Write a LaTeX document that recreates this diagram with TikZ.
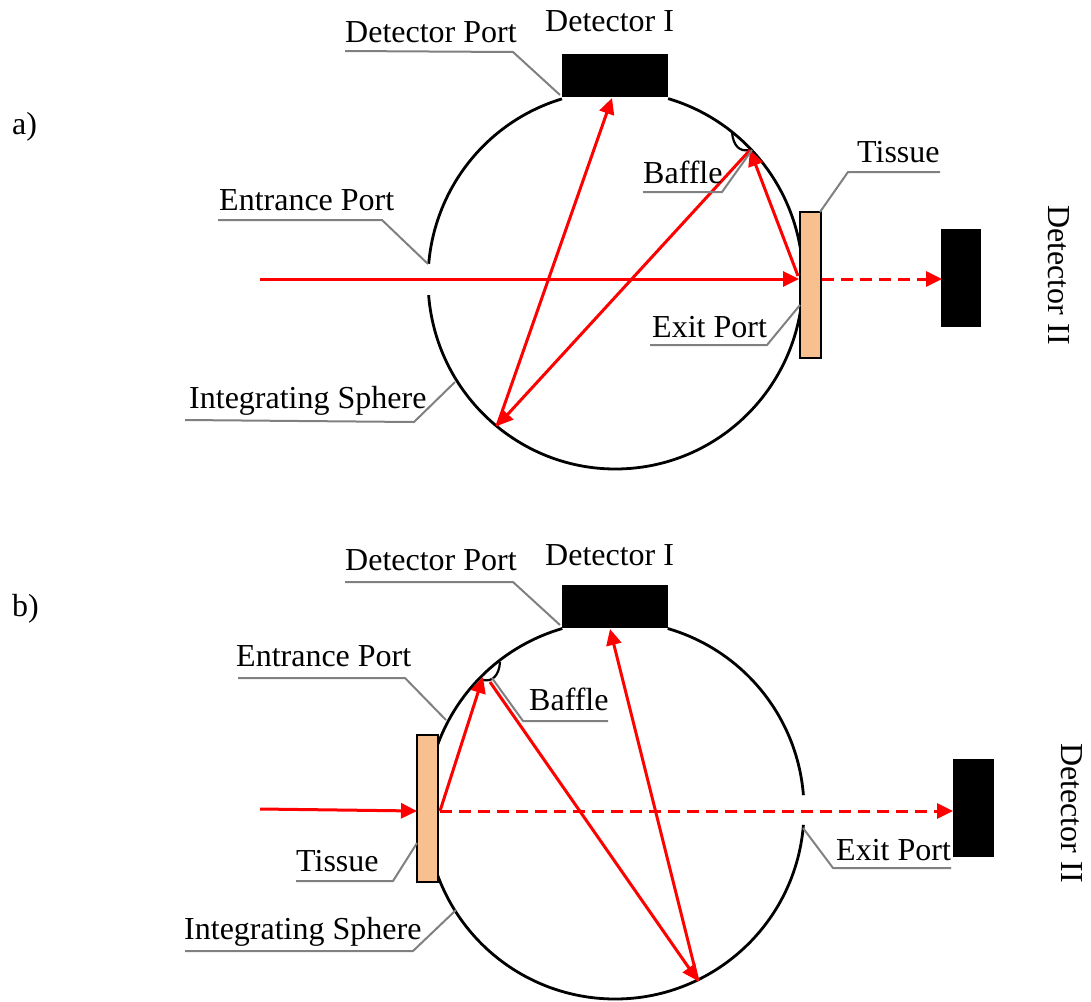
\documentclass[tikz,border=0pt]{standalone}
\usepackage{fontspec}
\setmainfont{Liberation Serif}
\usetikzlibrary{arrows.meta}
\definecolor{tissuecol}{RGB}{248,192,142}
\definecolor{leadergray}{RGB}{128,128,128}
\tikzset{
  lbl/.style={font=\fontsize{32}{36}\selectfont,inner sep=0pt,text=black},
  sphere/.style={draw=black,line width=2.8pt},
  baffle/.style={draw=black,line width=2.2pt},
  tissue/.style={draw=black,fill=tissuecol,line width=2.2pt},
  leader/.style={draw=leadergray,line width=2pt},
  ray/.style={draw=red,line width=3pt,-{Triangle[length=16pt,width=15pt]}},
  dashray/.style={ray,dash pattern=on 12pt off 7pt},
}
\begin{document}
\begin{tikzpicture}[x=1pt,y=-1pt]
\useasboundingbox (0,0) rectangle (1091,1001);
% ---------- a ----------
\coordinate (ca) at (615.5,280);
\draw[sphere] (ca) ++(73.7:187.5pt and 189pt) arc[start angle=73.7,end angle=8,x radius=187.5pt,y radius=189pt];
\draw[sphere] (ca) ++(106.6:187.5pt and 189pt) arc[start angle=106.6,end angle=175.1,x radius=187.5pt,y radius=189pt];
\draw[sphere] (ca) ++(184.6:187.5pt and 189pt) arc[start angle=184.6,end angle=352,x radius=187.5pt,y radius=189pt];
\draw[baffle] (732,132) .. controls (733,146) and (740,152) .. (749,150);
\path[tissue] (800,212) rectangle (821,358);
\fill[black] (562,54) rectangle (668,97);
\fill[black] (941,229) rectangle (981,327);
\coordinate (p0a) at (260,279);
\coordinate (p1a) at (799,279);
\coordinate (p2a) at (822,279);
\coordinate (p3a) at (942,279);
\coordinate (p4a) at (750,150);
\coordinate (p5a) at (497,426);
\coordinate (p6a) at (612,98);
\coordinate (p7a) at (798,276);
\draw[ray] (p0a) -- (p1a);
\draw[dashray] (p2a) -- (p3a);
\draw[ray] (p7a) -- (p4a);
\draw[ray] (p4a) -- (p5a);
\draw[ray] (p5a) -- (p6a);
\draw[leader] (345,51) -- (513,52) -- (560,95);
\draw[leader] (218,220) -- (382,220) -- (428,264);
\draw[leader] (185,420) -- (414,422) -- (455,382);
\draw[leader] (643,192) -- (722,192) -- (752,150);
\draw[leader] (940,172) -- (848,172) -- (820,212);
\draw[leader] (650,345) -- (767,345) -- (800,305);
\node[lbl,anchor=base west] (la1) at (345,42) {Detector Port};
\node[lbl,anchor=base west] (la2) at (545,31) {Detector I};
\node[lbl,anchor=base west] (la3) at (857,162) {Tissue};
\node[lbl,anchor=base west] (la4) at (643,183) {Baffle};
\node[lbl,anchor=base west] (la5) at (219,210) {Entrance Port};
\node[lbl,anchor=base west] (la6) at (652,337) {Exit Port};
\node[lbl,anchor=base west] (la7) at (189,408) {Integrating Sphere};
\node[lbl,anchor=base west] (la8) at (12,134) {a)};
\node[lbl,rotate=-90] (la9) at (1059,275) {Detector II};
% ---------- b ----------
\coordinate (cb) at (615,810);
\draw[sphere] (cb) ++(73.8:189pt) arc[start angle=73.8,end angle=4.5,radius=189pt];
\draw[sphere] (cb) ++(-4.5:189pt) arc[start angle=-4.5,end angle=-200,radius=189pt];
\draw[sphere] (cb) ++(106.2:189pt) arc[start angle=106.2,end angle=160,radius=189pt];
\draw[baffle] (500,662) .. controls (499,676) and (492,682) .. (483,680);
\path[tissue] (417,735) rectangle (438,882);
\fill[black] (562,585) rectangle (668,628);
\fill[black] (953,759) rectangle (994,857);
\coordinate (p0b) at (260,809);
\coordinate (p1b) at (417,811);
\coordinate (p2b) at (440,811);
\coordinate (p3b) at (953,811);
\coordinate (p4b) at (483,677);
\coordinate (p5b) at (490,682);
\coordinate (p6b) at (698,981);
\coordinate (p7b) at (610,629);
\draw[ray] (p0b) -- (p1b);
\draw[dashray] (p2b) -- (p3b);
\draw[ray] (p2b) -- (p4b);
\draw[ray] (p5b) -- (p6b);
\draw[ray] (p6b) -- (p7b);
\draw[leader] (345,582) -- (513,582) -- (560,625);
\draw[leader] (238,678) -- (405,678) -- (446,720);
\draw[leader] (608,721) -- (523,721) -- (492,678);
\draw[leader] (296,881) -- (393,881) -- (417,843);
\draw[leader] (185,951) -- (413,951) -- (456,910);
\draw[leader] (951,868) -- (833,868) -- (803,828);
\node[lbl,anchor=base west] (lb1) at (345,570) {Detector Port};
\node[lbl,anchor=base west] (lb2) at (545,565) {Detector I};
\node[lbl,anchor=base west] (lb3) at (236,666) {Entrance Port};
\node[lbl,anchor=base west] (lb4) at (529,710) {Baffle};
\node[lbl,anchor=base west] (lb5) at (296,871) {Tissue};
\node[lbl,anchor=base west] (lb6) at (836,860) {Exit Port};
\node[lbl,anchor=base west] (lb7) at (184,939) {Integrating Sphere};
\node[lbl,anchor=base west] (lb8) at (12,616) {b)};
\node[lbl,rotate=-90] (lb9) at (1072,813) {Detector II};
\end{tikzpicture}
\end{document}
